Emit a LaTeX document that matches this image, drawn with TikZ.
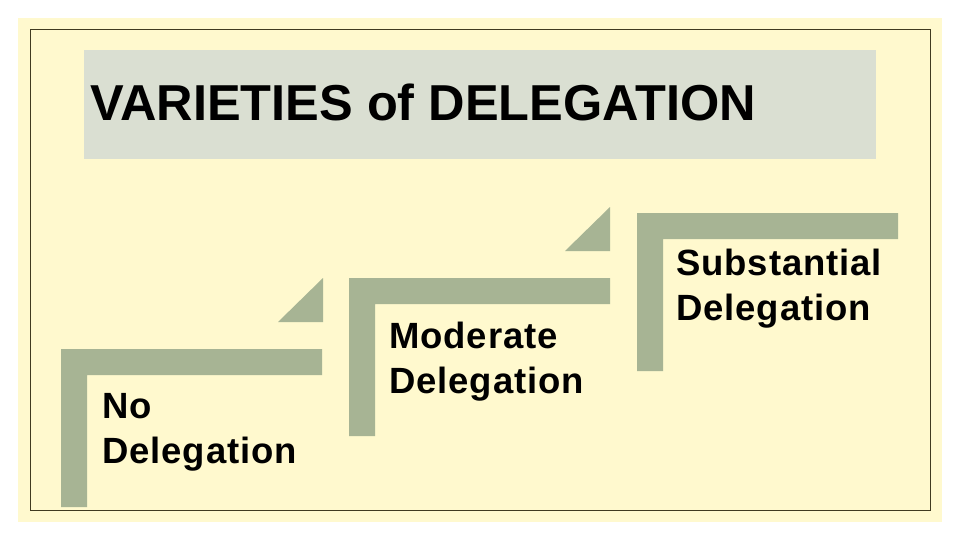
\documentclass[tikz,border=0pt]{standalone}
\usepackage{fontspec}
\setmainfont{Liberation Sans}
\newfontfamily\labelfont[LetterSpace=2.5]{Liberation Sans}
\usetikzlibrary{positioning}

\definecolor{paper}{RGB}{255,249,206}
\definecolor{titlegray}{RGB}{218,223,210}
\definecolor{sage}{RGB}{167,180,148}
\definecolor{frame}{RGB}{64,58,32}

\begin{document}
\begin{tikzpicture}[
        x = 1pt, y = -1pt, % pixel grid, y downwards
        steplabel/.style = {anchor=base west, inner sep=0pt, align=left,
                            font=\labelfont\fontsize{36.5}{45}\selectfont\bfseries},
        stepfill/.style = {fill=sage, draw=none}
        ]

  \useasboundingbox (0,0) rectangle (960,540);

  % background and frame
  \fill[paper] (18,18) rectangle (942,522);
  \draw[frame, line width=1pt] (30,30) rectangle (930,510);

  % title bar
  \fill[titlegray] (84,50) rectangle (876,159);
  \node (title) [anchor=base west, inner sep=0pt,
        font=\fontsize{50.5}{50}\selectfont\bfseries] at (90,121)
        {VARIETIES of DELEGATION};

  % the three steps
  \foreach \x/\y in {61/349, 349/278, 637/213}
    \fill[stepfill] (\x,\y) -- ++(261,0) -- ++(0,26) -- ++(-235,0)
                    -- ++(0,132) -- ++(-26,0) -- cycle;

  % small corner triangles
  \foreach \x/\y in {323/322, 610/251}
    \fill[stepfill] (\x,\y) -- ++(-45,0) -- ++(45,-44) -- cycle;

  % labels (base = last line)
  \node (none) [steplabel] at (102,463) {No\\Delegation};
  \node (moderate) [steplabel] at (389,393) {Moderate\\Delegation};
  \node (substantial) [steplabel] at (676,320) {Substantial\\Delegation};

\end{tikzpicture}
\end{document}
